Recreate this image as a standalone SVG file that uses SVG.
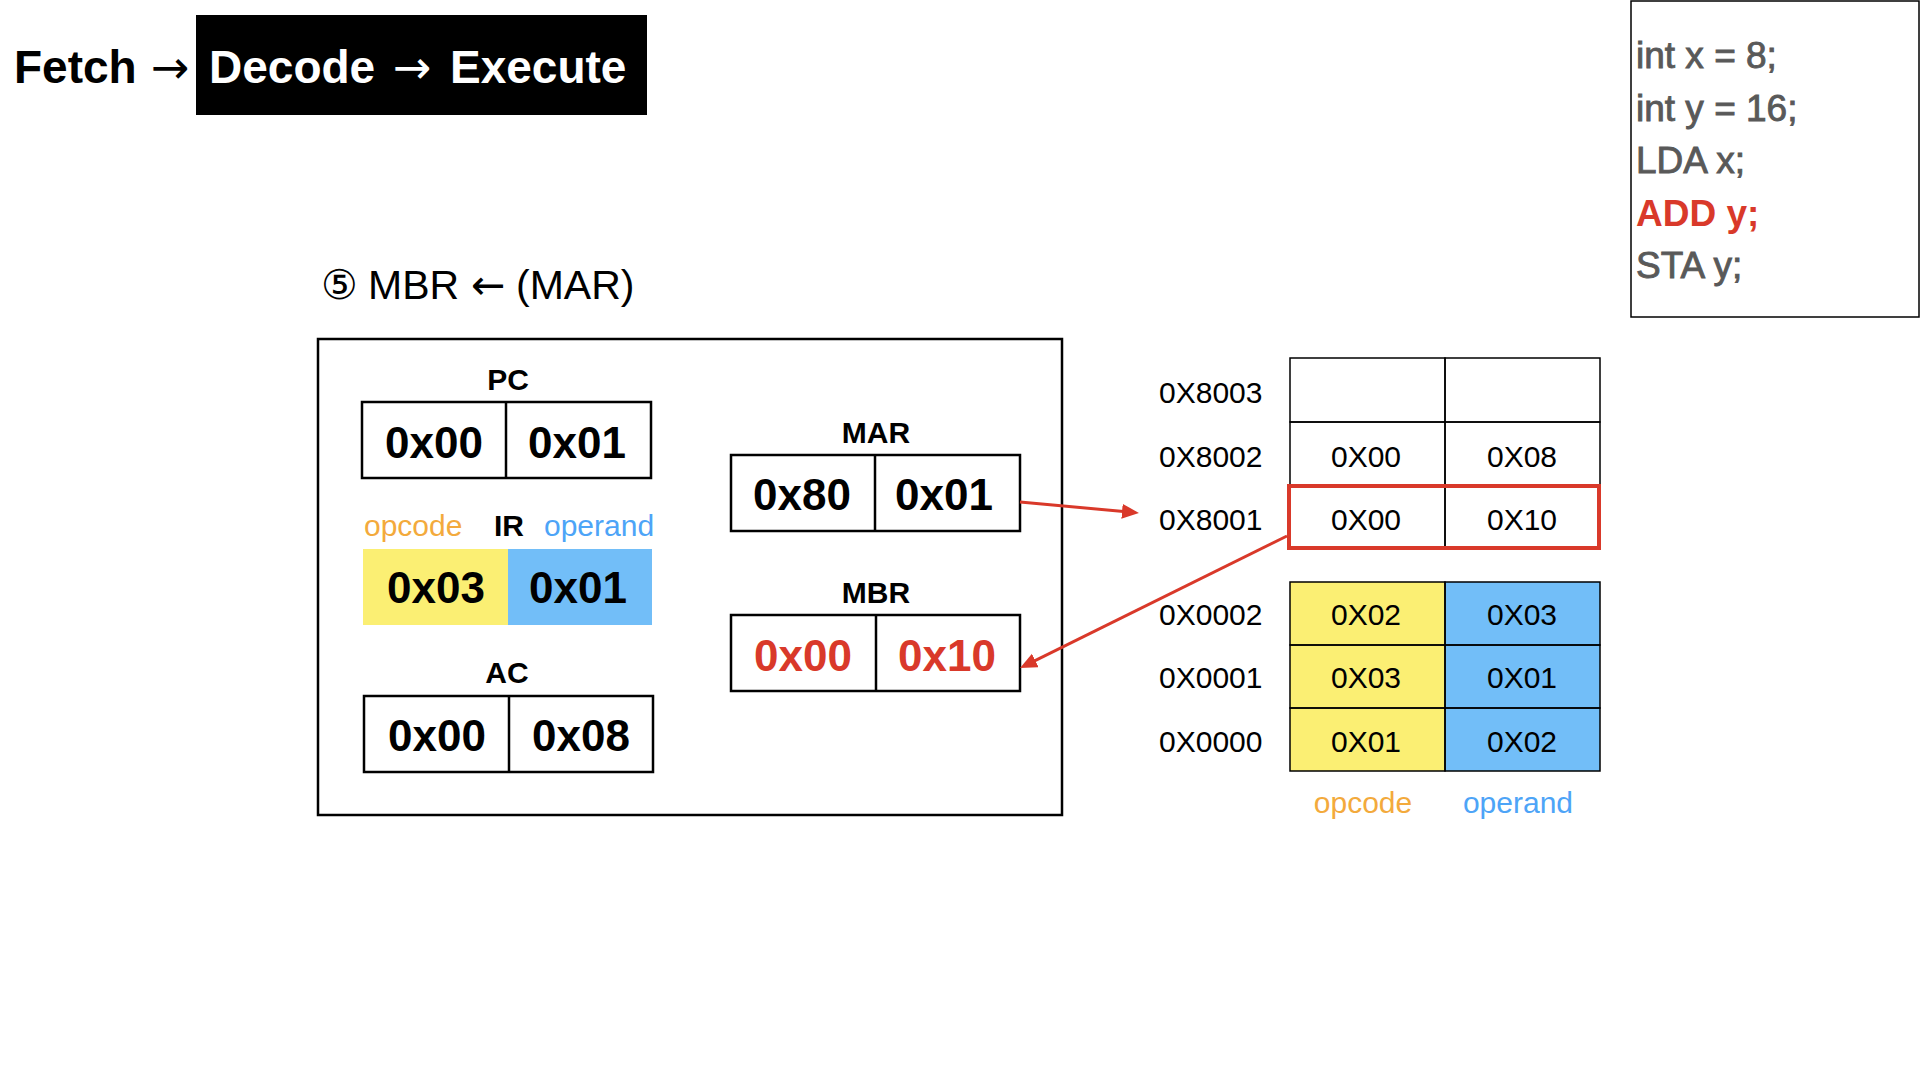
<svg xmlns="http://www.w3.org/2000/svg" width="1920" height="1080" viewBox="0 0 1920 1080">
<style>
text{font-family:"Liberation Sans",Arial,sans-serif;}
.hdr{font-size:46px;font-weight:bold;}
.arr{font-family:"DejaVu Sans",sans-serif;font-weight:normal;}
.code{font-size:37px;fill:#595959;stroke:#595959;stroke-width:0.9;}
.codehi{font-size:37px;fill:#D9392A;font-weight:bold;}
.title{font-size:41px;fill:#000;}
.lbl{font-size:30px;font-weight:bold;text-anchor:middle;}
.reg{font-size:44px;font-weight:bold;text-anchor:middle;}
.red{fill:#D9392A;}
.box{fill:none;stroke:#000;stroke-width:2.5;}
.cell{fill:none;stroke:#000;stroke-width:1.5;}
.mem{font-size:30px;}
.memc{font-size:30px;text-anchor:middle;}
.opc{font-size:30px;fill:#F3AA3C;}
.opr{font-size:30px;fill:#4DA4F7;}
.yel{fill:#FBEF73;}
.blu{fill:#72BEF8;}
.conn{stroke:#D9392A;stroke-width:3;fill:none;}
</style>
<defs>
<marker id="ah" markerUnits="userSpaceOnUse" markerWidth="20" markerHeight="16" refX="7" refY="7.5" orient="auto">
<path d="M0,0 L17,7.5 L0,15 Z" fill="#D9392A"/>
</marker>
</defs>
<rect width="1920" height="1080" fill="#fff"/>

<g id="header">
<text class="hdr" x="14" y="83">Fetch<tspan class="arr" x="151">→</tspan></text>
<rect x="196" y="15" width="451" height="100" fill="#000"/>
<text class="hdr" x="209" y="83" fill="#fff">Decode<tspan class="arr" x="393">→</tspan><tspan x="450">Execute</tspan></text>
</g>

<g id="code">
<rect x="1631" y="1" width="288" height="316" fill="none" stroke="#000" stroke-width="1.5"/>
<text class="code" x="1636" y="68">int x = 8;</text>
<text class="code" x="1636" y="121">int y = 16;</text>
<text class="code" x="1636" y="173">LDA x;</text>
<text class="codehi" x="1636" y="226">ADD y;</text>
<text class="code" x="1636" y="278">STA y;</text>
</g>

<g id="title">
<text class="title" x="321" y="299">⑤<tspan x="368">MBR</tspan><tspan class="arr" x="471">←</tspan><tspan x="516">(MAR)</tspan></text>
</g>

<g id="cpu">
<rect class="box" x="318" y="339" width="744" height="476"/>
</g>

<g id="pc">
<text class="lbl" x="508" y="390">PC</text>
<rect class="box" x="362" y="402" width="289" height="76"/>
<line x1="506" y1="402" x2="506" y2="478" stroke="#000" stroke-width="2.5"/>
<text class="reg" x="434" y="458">0x00</text>
<text class="reg" x="577" y="458">0x01</text>
</g>

<g id="ir">
<text class="opc" x="364" y="536">opcode</text>
<text class="lbl" x="509" y="536">IR</text>
<text class="opr" x="544" y="536">operand</text>
<rect class="yel" x="363" y="549" width="145" height="76"/>
<rect class="blu" x="508" y="549" width="144" height="76"/>
<text class="reg" x="436" y="603">0x03</text>
<text class="reg" x="578" y="603">0x01</text>
</g>

<g id="ac">
<text class="lbl" x="507" y="683">AC</text>
<rect class="box" x="364" y="696" width="289" height="76"/>
<line x1="509" y1="696" x2="509" y2="772" stroke="#000" stroke-width="2.5"/>
<text class="reg" x="437" y="751">0x00</text>
<text class="reg" x="581" y="751">0x08</text>
</g>

<g id="mar">
<text class="lbl" x="876" y="443">MAR</text>
<rect class="box" x="731" y="455" width="289" height="76"/>
<line x1="875" y1="455" x2="875" y2="531" stroke="#000" stroke-width="2.5"/>
<text class="reg" x="802" y="510">0x80</text>
<text class="reg" x="944" y="510">0x01</text>
</g>

<g id="mbr">
<text class="lbl" x="876" y="603">MBR</text>
<rect class="box" x="731" y="615" width="289" height="76"/>
<line x1="876" y1="615" x2="876" y2="691" stroke="#000" stroke-width="2.5"/>
<text class="reg red" x="803" y="671">0x00</text>
<text class="reg red" x="947" y="671">0x10</text>
</g>

<g id="mem-high">
<text class="mem" x="1159" y="403">0X8003</text>
<text class="mem" x="1159" y="467">0X8002</text>
<text class="mem" x="1159" y="530">0X8001</text>
<rect class="cell" x="1290" y="358" width="155" height="64"/>
<rect class="cell" x="1445" y="358" width="155" height="64"/>
<rect class="cell" x="1290" y="422" width="155" height="64"/>
<rect class="cell" x="1445" y="422" width="155" height="64"/>
<rect class="cell" x="1290" y="486" width="155" height="63"/>
<rect class="cell" x="1445" y="486" width="155" height="63"/>
<text class="memc" x="1366" y="467">0X00</text>
<text class="memc" x="1522" y="467">0X08</text>
<text class="memc" x="1366" y="530">0X00</text>
<text class="memc" x="1522" y="530">0X10</text>
<rect x="1289" y="486" width="310" height="62" fill="none" stroke="#D9392A" stroke-width="4"/>
</g>

<g id="mem-low">
<text class="mem" x="1159" y="625">0X0002</text>
<text class="mem" x="1159" y="688">0X0001</text>
<text class="mem" x="1159" y="752">0X0000</text>
<rect class="yel" x="1290" y="582" width="155" height="189"/>
<rect class="blu" x="1445" y="582" width="155" height="189"/>
<rect class="cell" x="1290" y="582" width="155" height="63"/>
<rect class="cell" x="1445" y="582" width="155" height="63"/>
<rect class="cell" x="1290" y="645" width="155" height="63"/>
<rect class="cell" x="1445" y="645" width="155" height="63"/>
<rect class="cell" x="1290" y="708" width="155" height="63"/>
<rect class="cell" x="1445" y="708" width="155" height="63"/>
<text class="memc" x="1366" y="625">0X02</text>
<text class="memc" x="1522" y="625">0X03</text>
<text class="memc" x="1366" y="688">0X03</text>
<text class="memc" x="1522" y="688">0X01</text>
<text class="memc" x="1366" y="752">0X01</text>
<text class="memc" x="1522" y="752">0X02</text>
<text class="opc" x="1363" y="813" text-anchor="middle">opcode</text>
<text class="opr" x="1518" y="813" text-anchor="middle">operand</text>
</g>

<g id="connectors">
<line class="conn" x1="1020" y1="502" x2="1129" y2="512" marker-end="url(#ah)"/>
<line class="conn" x1="1287" y1="536" x2="1029" y2="663.6" marker-end="url(#ah)"/>
</g>
</svg>
